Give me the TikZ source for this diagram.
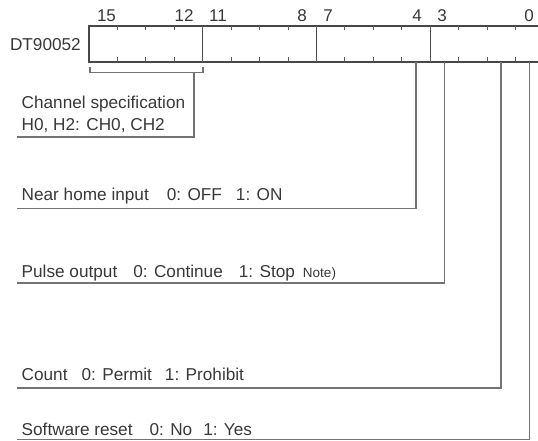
\documentclass[tikz,border=0pt]{standalone}
\usepackage{fontspec}
\setmainfont{Liberation Sans}
\newcommand{\mynotesize}{\fontsize{13.5}{16}\selectfont}
\begin{document}
\begin{tikzpicture}[x=1pt,y=-1pt,
  reg/.style={draw=black!72,line width=1.2pt},
  tick/.style={draw=black!65,line width=0.9pt},
  lead/.style={draw=black!55,line width=1.3pt},
  txt/.style={anchor=base west,inner sep=0pt,text=black!78,font=\fontsize{17.2}{20}\selectfont},
  bitnum/.style={anchor=base,inner sep=0pt,text=black!78,font=\fontsize{17}{20}\selectfont}]
\useasboundingbox (0,0) rectangle (538,441);
% register
\draw[reg] (89,26) rectangle (544,62);
\foreach \i in {1,2,3}{
  \draw[reg] ({89+\i*113.75},26) -- ({89+\i*113.75},62);
}
\foreach \i in {1,...,15}{
  \draw[tick] ({89+\i*28.4375},26) -- ({89+\i*28.4375},30.5);
  \draw[tick] ({89+\i*28.4375},62) -- ({89+\i*28.4375},57.5);
}
\node[anchor=east,inner sep=0pt,text=black!78,font=\fontsize{17.2}{20}\selectfont] (reg) at (81,45) {DT90052};
% bit numbers
\node[bitnum] (n15) at (106.5,22) {15};
\node[bitnum] (n12) at (184,22) {12};
\node[bitnum] (n11) at (218,22) {11};
\node[bitnum] (n8) at (302,22) {8};
\node[bitnum] (n7) at (328,22) {7};
\node[bitnum] (n4) at (417,22) {4};
\node[bitnum] (n3) at (442,22) {3};
\node[bitnum] (n0) at (529,22) {0};
% labels
\node[txt] (ch1) at (21.5,109) {Channel specification};
\node[txt] (ch2) at (21.5,131) {H0, H2: CH0, CH2};
\node[txt] (nh) at (21.5,200) {Near home input\hspace{18pt}0: OFF\hspace{14pt}1: ON};
\node[txt] (po) at (21.5,277) {Pulse output\hspace{16pt}0: Continue\hspace{16pt}1: Stop\hspace{8pt}{\mynotesize Note)}};
\node[txt] (ct) at (21.5,380.5) {Count\hspace{14pt}0: Permit\hspace{13pt}1: Prohibit};
\node[txt] (sr) at (21.5,435) {Software reset\hspace{17pt}0: No\hspace{11pt}1: Yes};
% leader coordinates
\coordinate (brL) at (90,67);
\coordinate (brR) at (203,67);
\coordinate (brM) at (194,72.3);
\coordinate (chEnd) at (17,137);
\coordinate (b4) at (416,62);
\coordinate (nhEnd) at (17,208.5);
\coordinate (b3) at (444.5,62);
\coordinate (poEnd) at (17,283);
\coordinate (b1) at (501,62);
\coordinate (ctEnd) at (17,388);
\coordinate (b0) at (529.5,62);
\coordinate (srEnd) at (17,439.5);
% leaders
\draw[lead] (brL) -- (90,72.3) -- (203,72.3) -- (brR);
\draw[lead] (brM) |- (chEnd);
\draw[lead] (b4) |- (nhEnd);
\draw[lead] (b3) |- (poEnd);
\draw[lead] (b1) |- (ctEnd);
\draw[lead] (b0) |- (srEnd);
\end{tikzpicture}
\end{document}
